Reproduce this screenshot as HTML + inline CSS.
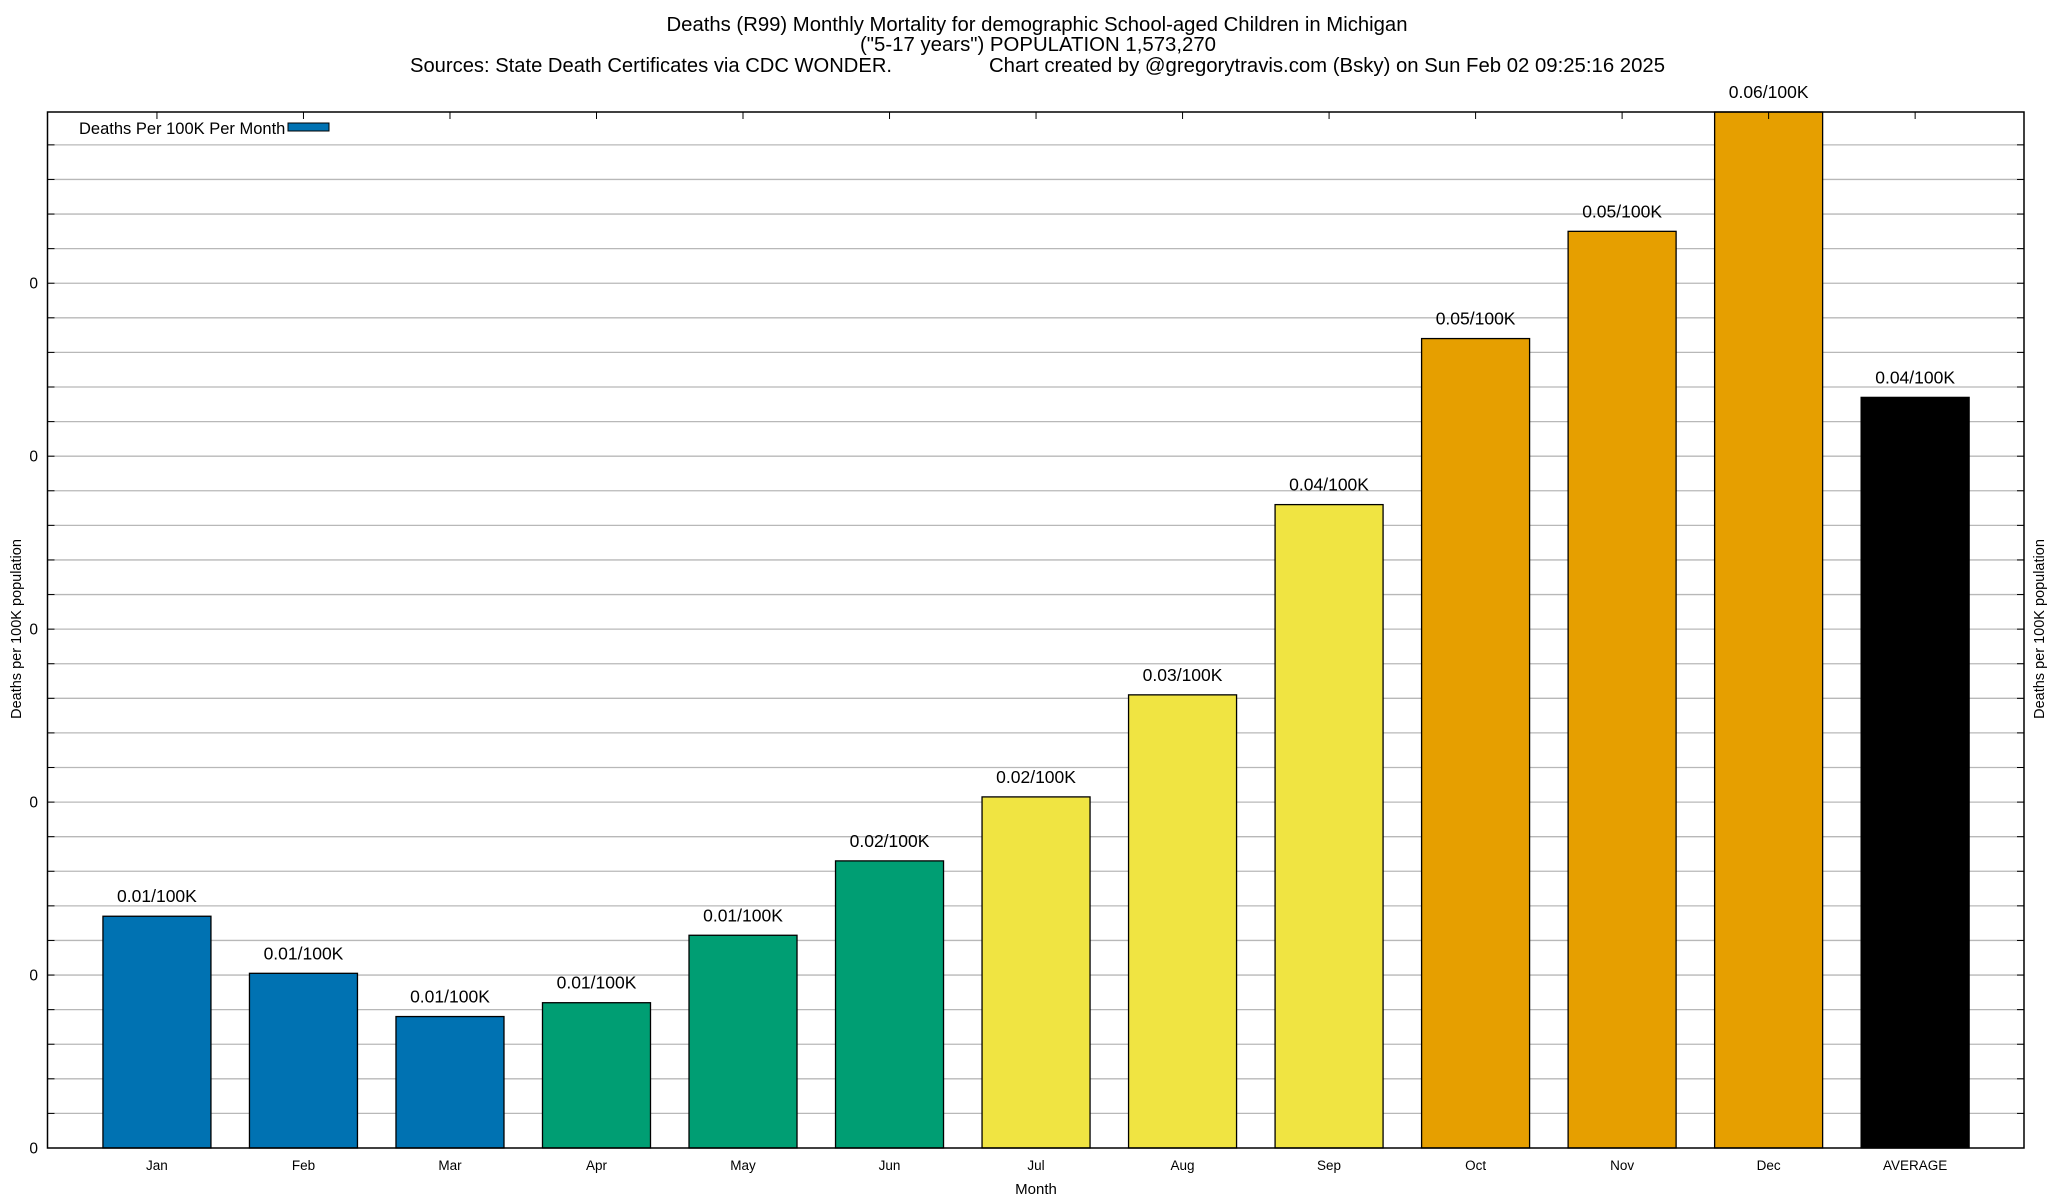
<!DOCTYPE html>
<html><head><meta charset="utf-8"><style>
html,body{margin:0;padding:0;background:#fff;}
svg{display:block;font-family:"Liberation Sans",Arial,sans-serif;}
</style></head><body>
<svg id="chart" width="2048" height="1200" viewBox="0 0 2048 1200">
<g>
<text x="1037" y="31" font-size="20" text-anchor="middle" textLength="741" lengthAdjust="spacingAndGlyphs">Deaths (R99) Monthly Mortality for demographic School-aged Children in Michigan</text>
<text x="1038" y="51" font-size="20" text-anchor="middle" textLength="356" lengthAdjust="spacingAndGlyphs">("5-17 years") POPULATION 1,573,270</text>
<text x="410" y="72" font-size="20" textLength="482" lengthAdjust="spacingAndGlyphs">Sources: State Death Certificates via CDC WONDER.</text>
<text x="989" y="72" font-size="20" textLength="676" lengthAdjust="spacingAndGlyphs">Chart created by @gregorytravis.com (Bsky) on Sun Feb 02 09:25:16 2025</text>
</g>
<g id="grid"></g>
<g id="bars"></g>
<g id="axes"></g>
<g>
<text x="79" y="134" font-size="16.5">Deaths Per 100K Per Month</text>
<rect x="288" y="123" width="41" height="8" fill="#0072b2" stroke="#000" stroke-width="1"/>
</g>
<text transform="translate(21,629) rotate(-90)" font-size="14.5" text-anchor="middle">Deaths per 100K population</text>
<text transform="translate(2044,629) rotate(-90)" font-size="14.5" text-anchor="middle">Deaths per 100K population</text>
<text x="1036" y="1194" font-size="15" text-anchor="middle">Month</text>
</svg>
<script>
const categories = ["Jan","Feb","Mar","Apr","May","Jun","Jul","Aug","Sep","Oct","Nov","Dec","AVERAGE"];
const values = [0.0134,0.0101,0.0076,0.0084,0.0123,0.0166,0.0203,0.0262,0.0372,0.0468,0.0530,0.0599,0.0434];
const barColors = ["#0072b2","#0072b2","#0072b2","#009e73","#009e73","#009e73","#f0e442","#f0e442","#f0e442","#e69f00","#e69f00","#e69f00","#000000"];
const yTickValues = [0,0.01,0.02,0.03,0.04,0.05];
const yTickLabels = ["0","0","0","0","0","0"];
const yMax = 0.0599;
const yMinorStep = 0.002;

const L=47.5,R=2024,T=112,B=1148;
const NS="http://www.w3.org/2000/svg";
const slot=(R-L)/13.49, off=0.747;
function x(i){return L+(i+off)*slot;}
function y(v){return B-(v/yMax)*(B-T);}
function mk(tag,attrs,parent){const e=document.createElementNS(NS,tag);for(const k in attrs)e.setAttribute(k,attrs[k]);parent.appendChild(e);return e;}
const grid=document.getElementById('grid'),bars=document.getElementById('bars'),axes=document.getElementById('axes');
// gridlines + y ticks
for(let k=1;k*yMinorStep<=yMax+1e-9;k++){
  const yy=y(k*yMinorStep);
  const g=mk('line',{x1:L,x2:R,y1:yy,y2:yy,stroke:'#b8b8b8','stroke-width':1.3},grid);
  
  
  const t1=mk('line',{x1:L,x2:L+7,y1:yy,y2:yy,stroke:'#000','stroke-width':1},axes);
  
  
  const t2=mk('line',{x1:R-7,x2:R,y1:yy,y2:yy,stroke:'#000','stroke-width':1},axes);
  
  
}
yTickValues.forEach((v,i)=>{
  const t=mk('text',{x:38,y:y(v)+5.5,'font-size':15.5,'text-anchor':'end'},axes);
  t.textContent=yTickLabels[i];
  
  
});
categories.forEach((c,i)=>{
  const cx=x(i),bw=108,top=y(values[i]);
  const r=mk('rect',{x:cx-bw/2,y:top,width:bw,height:B-top,fill:barColors[i],stroke:'#000','stroke-width':1.3},bars);
  
  
  const lb=mk('text',{x:cx,y:top-14,'font-size':17.5,'text-anchor':'middle'},bars);
  lb.textContent=values[i].toFixed(2)+'/100K';
  
  
  const tl=mk('text',{x:cx,y:1170,'font-size':13.5,'text-anchor':'middle'},axes);
  tl.textContent=c;
  
  
  const tt=mk('line',{x1:cx,x2:cx,y1:T,y2:T+7,stroke:'#000','stroke-width':1},axes);
  
  
});
const fr=mk('rect',{x:L,y:T,width:R-L,height:B-T,fill:'none',stroke:'#000','stroke-width':1.5},axes);


</script>
</body></html>
